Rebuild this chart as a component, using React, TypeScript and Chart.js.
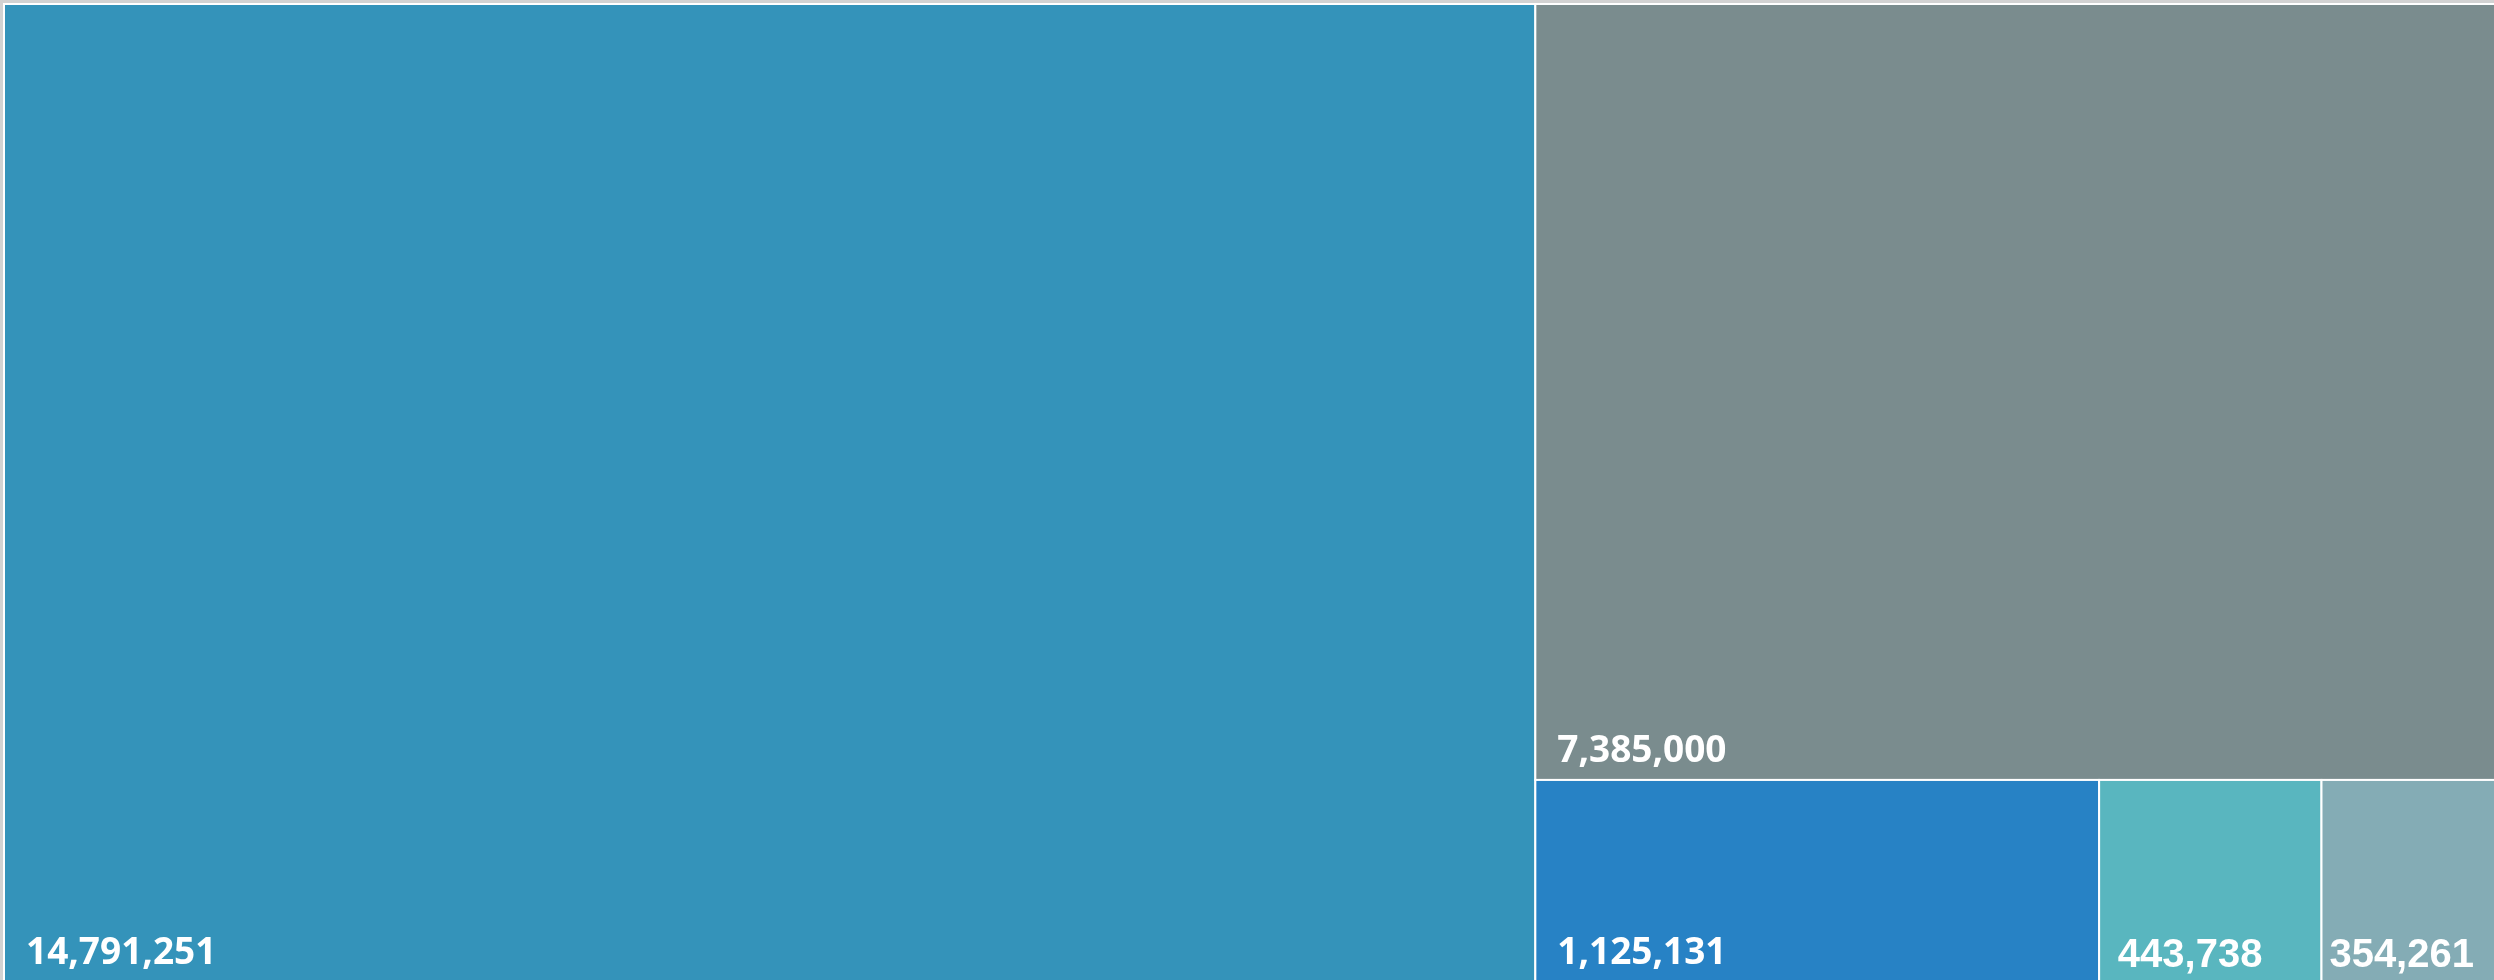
import React, { useEffect, useRef } from "react";
import { Chart, registerables } from "chart.js";

Chart.register(...registerables);

const categories = ["Item 1", "Item 2", "Item 3", "Item 4", "Item 5"];
const values = [14791251, 7385000, 1125131, 443738, 354261];
const colors = ["#3493ba", "#7a8c8e", "#2782c5", "#59b6bf", "#84acb5"];

type Rect = { i: number; x: number; y: number; w: number; h: number };

function worst(row: number[], side: number): number {
  const s = row.reduce((a, b) => a + b, 0);
  const mx = Math.max(...row);
  const mn = Math.min(...row);
  return Math.max((side * side * mx) / (s * s), (s * s) / (side * side * mn));
}

function squarify(vals: number[], W: number, H: number): Rect[] {
  const total = vals.reduce((a, b) => a + b, 0);
  const items = vals.map((v, i) => ({ i, a: (v / total) * W * H }));
  const out: Rect[] = [];
  let x = 0, y = 0, w = W, h = H;
  let row: { i: number; a: number }[] = [];
  const layout = () => {
    const s = row.reduce((a, b) => a + b.a, 0);
    if (w >= h) {
      const cw = s / h;
      let yy = y;
      for (const r of row) {
        const rh = r.a / cw;
        out.push({ i: r.i, x, y: yy, w: cw, h: rh });
        yy += rh;
      }
      x += cw; w -= cw;
    } else {
      const rh = s / w;
      let xx = x;
      for (const r of row) {
        const rw = r.a / rh;
        out.push({ i: r.i, x: xx, y, w: rw, h: rh });
        xx += rw;
      }
      y += rh; h -= rh;
    }
    row = [];
  };
  for (const it of items) {
    const side = Math.min(w, h);
    if (row.length === 0) { row.push(it); continue; }
    const cur = row.map(r => r.a);
    if (worst([...cur, it.a], side) <= worst(cur, side)) row.push(it);
    else { layout(); row.push(it); }
  }
  if (row.length) layout();
  return out;
}

const treemapPlugin = {
  id: "treemapCells",
  afterDraw(chart: any) {
    const { ctx, chartArea, scales } = chart;
    const xs = scales.x, ys = scales.y;
    const aspect = chartArea.width / chartArea.height;
    const rects = squarify(values, aspect, 1);
    ctx.save();
    for (const r of rects) {
      const x0 = xs.getPixelForValue(r.x / aspect);
      const x1 = xs.getPixelForValue((r.x + r.w) / aspect);
      const y0 = ys.getPixelForValue(r.y);
      const y1 = ys.getPixelForValue(r.y + r.h);
      const left = Math.min(x0, x1), top = Math.min(y0, y1);
      const w = Math.abs(x1 - x0), h = Math.abs(y1 - y0);
      ctx.fillStyle = colors[r.i];
      ctx.fillRect(left, top, w, h);
      ctx.strokeStyle = "#ffffff";
      ctx.lineWidth = 2;
      ctx.strokeRect(left, top, w, h);

      const text = values[r.i].toLocaleString("en-US");
      const small = w < 300;
      ctx.font = small ? '700 40px "Liberation Sans"' : '700 37px "Open Sans"';
      ctx.fillStyle = "#ffffff";
      ctx.textAlign = "left";
      ctx.textBaseline = "alphabetic";
      const tw = ctx.measureText(text).width;
      const pad = Math.min(22, Math.max(4, 0.24 * (w - tw)));
      ctx.fillText(text, left + pad, top + h - (small ? 15 : 18));
    }
    ctx.restore();
  },
};

export default function App() {
  const ref = useRef<HTMLCanvasElement>(null);
  useEffect(() => {
    if (!ref.current) return;
    const chart = new Chart(ref.current, {
      type: "scatter",
      data: { labels: categories, datasets: [] },
      options: {
        animation: false,
        responsive: false,
        layout: { padding: { left: 4, top: 4, right: 0, bottom: 2 } },
        plugins: { legend: { display: false }, tooltip: { enabled: false } },
        scales: {
          x: { type: "linear", min: 0, max: 1, display: false },
          y: { type: "linear", min: 0, max: 1, reverse: true, display: false },
        },
      },
      plugins: [treemapPlugin],
    });
    return () => chart.destroy();
  }, []);
  return (
    <div style={{ position: "fixed", left: 0, top: 0, width: "100vw", height: "100vh", background: "#d2d2d2", overflow: "hidden" }}>
      <canvas ref={ref} width={2499} height={984} style={{ display: "block", width: 2499, height: 984 }} />
    </div>
  );
}
